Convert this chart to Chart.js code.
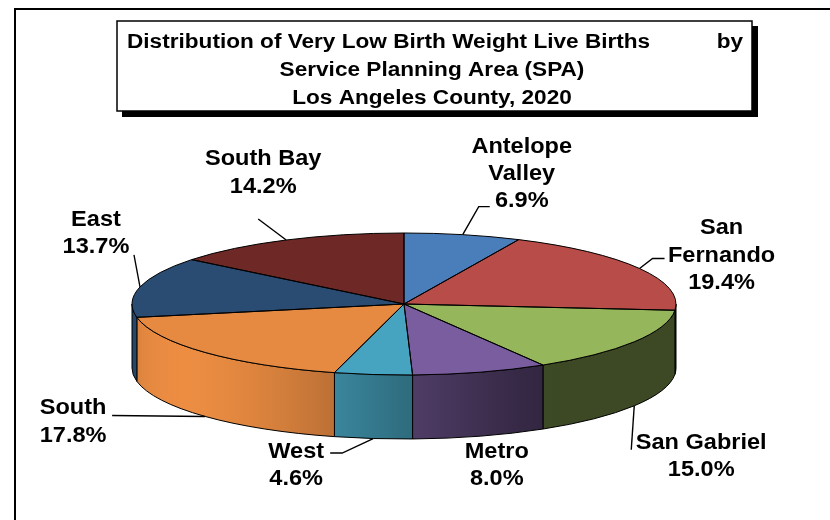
<!DOCTYPE html>
<html><head><meta charset="utf-8">
<script src="https://cdn.jsdelivr.net/npm/chart.js@4.4.0/dist/chart.umd.min.js"></script>
<style>html,body{margin:0;padding:0;background:#fff;}canvas{display:block;}</style>
</head><body>
<canvas id="c" width="830" height="520"></canvas>
<script>
// ---- data ----
const categories = ['Antelope Valley','San Fernando','San Gabriel','Metro','West','South','East','South Bay'];
const shares = [6.9, 19.4, 15.0, 8.0, 4.6, 17.8, 13.7, 14.2];
const labelLines = [['Antelope','Valley'],['San','Fernando'],['San Gabriel'],['Metro'],['West'],['South'],['East'],['South Bay']];
const titleMain = 'Distribution of Very Low Birth Weight Live Births';
const titleTail = 'by';
const titleLines = ['Service Planning Area (SPA)','Los Angeles County, 2020'];

// ---- style / layout ----
const topColors = ['#4A7EBB','#B84C49','#95B65A','#7A5D9E','#47A4C0','#E78A41','#2A4B72','#6E2927'];
const PIE = {cx:404, cy:304, rx:272, ry:71, depth:64};
// label block (first line cap-centre) offset and leader points, relative to slice anchor on rim
const LABEL_LAYOUT = [
  {text:[59,-90],  leader:[[16,-28],[27,-28]]},
  {text:[82,-42],  leader:[[13,-10],[25,-10]]},
  {text:[67,35],   leader:[[-3,44]]},
  {text:[16.6,14], leader:null},
  {text:[-77,11.5],leader:[[-31,14.5],[-43,14.5]]},
  {text:[-132,-10],leader:[[-93,-1]]},
  {text:[-44,-69], leader:[[-6,-32]]},
  {text:[-23,-82.5],leader:[[-28,-21]]}
];
const LABEL_FONT = 22, LABEL_SX = 1.07, LABEL_LH = 27.3;
const TITLE_FONT = 20, TITLE_SX = 1.13;

function hexToRgb(h){const n=parseInt(h.slice(1),16);return [(n>>16)&255,(n>>8)&255,n&255];}
function shade(h,f){const c=hexToRgb(h).map(v=>Math.max(0,Math.min(255,Math.round(v*f))));return 'rgb('+c.join(',')+')';}
function light(a){const d=a-145*Math.PI/180;const c=Math.max(0,Math.cos(d));return 0.4+0.62*Math.pow(c,1.5);}

function drawText(ctx,str,x,capY,F,sx,align){
  ctx.save();
  ctx.translate(x,capY+0.358*F);
  ctx.scale(sx,1);
  ctx.font='bold '+F+'px "Liberation Sans", Arial, sans-serif';
  ctx.textAlign=align||'center';ctx.textBaseline='alphabetic';ctx.fillStyle='#000';
  ctx.fillText(str,0,0);
  ctx.restore();
}

const pie3d = {
  id:'pie3d',
  beforeDraw(chart){
    const ctx=chart.ctx;
    ctx.save();ctx.fillStyle='#fff';ctx.fillRect(0,0,chart.width,chart.height);
    // outer frame
    ctx.strokeStyle='#000';ctx.lineWidth=2;ctx.strokeRect(15,9,840,530);
    // title box with shadow
    ctx.fillStyle='#000';
    ctx.fillRect(752,26,6,91);
    ctx.fillRect(122,111,636,6);
    ctx.fillStyle='#fff';ctx.fillRect(117,21,635,90);
    ctx.lineWidth=1.5;ctx.strokeRect(117,21,635,90);
    ctx.restore();
    drawText(ctx,titleMain,127,40.7,TITLE_FONT,TITLE_SX,'left');
    drawText(ctx,titleTail,743,40.7,TITLE_FONT,TITLE_SX,'right');
    drawText(ctx,titleLines[0],432,69,TITLE_FONT,TITLE_SX);
    drawText(ctx,titleLines[1],432,97.3,TITLE_FONT,TITLE_SX);
  },
  beforeDatasetsDraw(chart){
    const ctx=chart.ctx;const arcs=chart.getDatasetMeta(0).data;
    const {cx,cy,rx,ry,depth}=PIE;
    arcs.forEach((arc,i)=>{
      const a1=Math.max(arc.startAngle,0), a2=Math.min(arc.endAngle,Math.PI);
      if(a2<=a1) return;
      const xL=cx+rx*Math.cos(a2), xR=cx+rx*Math.cos(a1);
      const g=ctx.createLinearGradient(xL,0,xR,0);
      const n=10;
      for(let k=0;k<=n;k++){
        const a=a2+(a1-a2)*k/n;
        const x=cx+rx*Math.cos(a);
        let t=(xR-xL)>0.01?(x-xL)/(xR-xL):k/n;
        t=Math.max(0,Math.min(1,t));
        g.addColorStop(t,shade(topColors[i],light(a)));
      }
      ctx.save();
      ctx.beginPath();
      ctx.ellipse(cx,cy,rx,ry,0,a1,a2,false);
      ctx.ellipse(cx,cy+depth,rx,ry,0,a2,a1,true);
      ctx.closePath();
      ctx.fillStyle=g;ctx.fill();
      ctx.strokeStyle='#000';ctx.lineWidth=1;ctx.stroke();
      ctx.restore();
    });
    const el=arcs[0];const R=el.outerRadius;
    ctx.save();
    ctx.translate(cx,cy);ctx.scale(rx/R,ry/R);ctx.translate(-el.x,-el.y);
  },
  afterDatasetsDraw(chart){
    const ctx=chart.ctx;ctx.restore();
    const arcs=chart.getDatasetMeta(0).data;
    const {cx,cy,rx,ry,depth}=PIE;
    ctx.save();ctx.strokeStyle='#000';ctx.lineWidth=1;
    arcs.forEach(arc=>{
      ctx.beginPath();ctx.moveTo(cx,cy);
      ctx.ellipse(cx,cy,rx,ry,0,arc.startAngle,arc.endAngle,false);
      ctx.closePath();ctx.stroke();
    });
    ctx.restore();
    // labels
    arcs.forEach((arc,i)=>{
      const m=(arc.startAngle+arc.endAngle)/2;
      const front=Math.sin(m)>0;
      const ax=cx+rx*Math.cos(m), ay=cy+ry*Math.sin(m)+(front?depth:0);
      const L=LABEL_LAYOUT[i];
      if(L.leader){
        ctx.save();ctx.strokeStyle='#000';ctx.lineWidth=1.4;ctx.beginPath();ctx.moveTo(ax,ay);
        L.leader.forEach(p=>ctx.lineTo(ax+p[0],ay+p[1]));ctx.stroke();ctx.restore();
      }
      const tx=ax+L.text[0], ty=ay+L.text[1];
      const lines=labelLines[i].concat([shares[i].toFixed(1)+'%']);
      lines.forEach((s,k)=>drawText(ctx,s,tx,ty+k*LABEL_LH,LABEL_FONT,LABEL_SX));
    });
  }
};

new Chart(document.getElementById('c'),{
  type:'pie',
  data:{labels:categories,datasets:[{data:shares,backgroundColor:topColors,borderWidth:0,hoverOffset:0,clip:false}]},
  options:{
    responsive:false,animation:false,devicePixelRatio:1,
    layout:{padding:{left:254,right:276,top:154,bottom:66}},
    plugins:{legend:{display:false},tooltip:{enabled:false},title:{display:false}},
    events:[]
  },
  plugins:[pie3d]
});
</script>
</body></html>
